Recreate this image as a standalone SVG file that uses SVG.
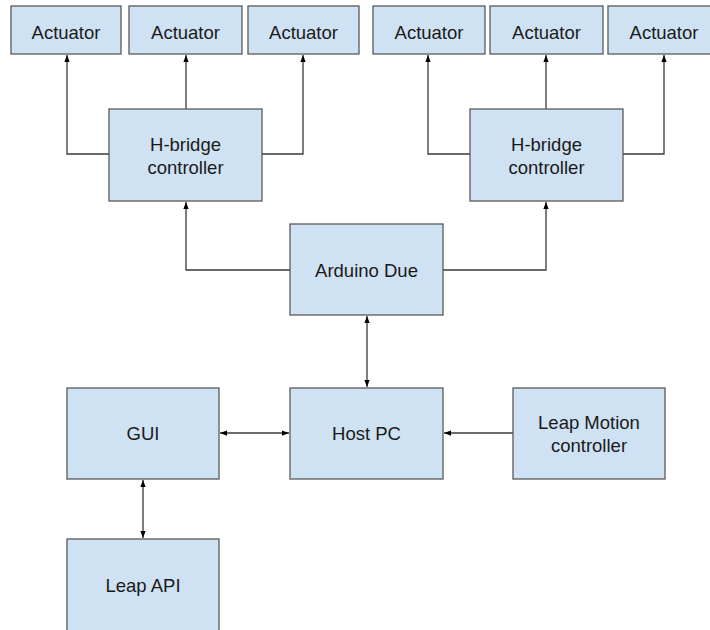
<svg xmlns="http://www.w3.org/2000/svg" width="710" height="630" viewBox="0 0 710 630">
<defs>
<style>
.box{fill:#cfe2f3;stroke:#595959;stroke-width:1.3}
.t{font-family:"Liberation Sans",Arial,sans-serif;font-size:18.5px;fill:#1a1a1a;text-anchor:middle}
.c{fill:none;stroke:#3a3a3a;stroke-width:1.3}
</style>
<marker id="ah" viewBox="0 0 8 8" refX="8" refY="4" markerWidth="7" markerHeight="7" markerUnits="userSpaceOnUse" orient="auto-start-reverse">
<path d="M0,1 L8,4 L0,7 Z" fill="#000"/>
</marker>
</defs>
<rect width="710" height="630" fill="#fff"/>
<g id="connectors">
<path class="c" d="M109,154 H67 V55" marker-end="url(#ah)"/>
<path class="c" d="M186,109 V55" marker-end="url(#ah)"/>
<path class="c" d="M262,154 H303 V55" marker-end="url(#ah)"/>
<path class="c" d="M470,154 H428 V55" marker-end="url(#ah)"/>
<path class="c" d="M546,109 V55" marker-end="url(#ah)"/>
<path class="c" d="M623,154 H664 V55" marker-end="url(#ah)"/>
<path class="c" d="M290,270 H186 V202" marker-end="url(#ah)"/>
<path class="c" d="M443,270 H546 V202" marker-end="url(#ah)"/>
<path class="c" d="M367,316 V387" marker-start="url(#ah)" marker-end="url(#ah)"/>
<path class="c" d="M220,433 H289" marker-start="url(#ah)" marker-end="url(#ah)"/>
<path class="c" d="M513,433 H444" marker-end="url(#ah)"/>
<path class="c" d="M143,480 V538" marker-start="url(#ah)" marker-end="url(#ah)"/>
</g>
<g id="act1"><rect class="box" x="11" y="6" width="110" height="48"/><text class="t" x="66" y="38.5">Actuator</text></g>
<g id="act2"><rect class="box" x="129" y="6" width="113" height="48"/><text class="t" x="185.5" y="38.5">Actuator</text></g>
<g id="act3"><rect class="box" x="248" y="6" width="111" height="48"/><text class="t" x="303.5" y="38.5">Actuator</text></g>
<g id="act4"><rect class="box" x="373" y="6" width="112" height="48"/><text class="t" x="429" y="38.5">Actuator</text></g>
<g id="act5"><rect class="box" x="490" y="6" width="113" height="48"/><text class="t" x="546.5" y="38.5">Actuator</text></g>
<g id="act6"><rect class="box" x="608" y="6" width="112" height="48"/><text class="t" x="664" y="38.5">Actuator</text></g>
<g id="hbridge1"><rect class="box" x="109" y="109" width="153" height="92"/><text class="t" x="185.5" y="151">H-bridge</text><text class="t" x="185.5" y="174">controller</text></g>
<g id="hbridge2"><rect class="box" x="470" y="109" width="153" height="92"/><text class="t" x="546.5" y="151">H-bridge</text><text class="t" x="546.5" y="174">controller</text></g>
<g id="arduino"><rect class="box" x="290" y="224" width="153" height="91"/><text class="t" x="366.5" y="277">Arduino Due</text></g>
<g id="gui"><rect class="box" x="67" y="388" width="152" height="91"/><text class="t" x="143" y="440">GUI</text></g>
<g id="hostpc"><rect class="box" x="290" y="388" width="153" height="91"/><text class="t" x="366.5" y="440">Host PC</text></g>
<g id="leapmotion"><rect class="box" x="513" y="388" width="152" height="91"/><text class="t" x="589" y="429">Leap Motion</text><text class="t" x="589" y="452">controller</text></g>
<g id="leapapi"><rect class="box" x="67" y="539" width="152" height="93"/><text class="t" x="143" y="592">Leap API</text></g>
</svg>
